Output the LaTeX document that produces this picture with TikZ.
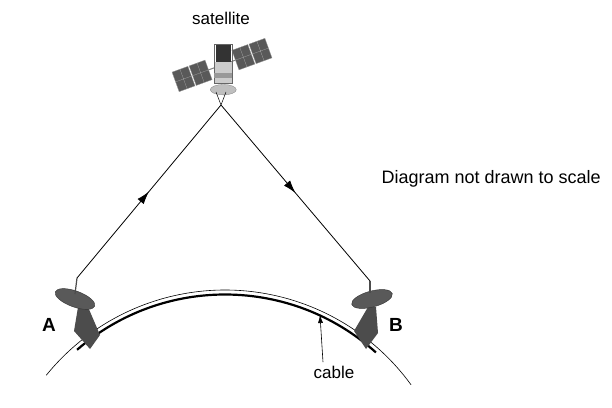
\documentclass[tikz,border=0pt]{standalone}
\usepackage{fontspec}
\setmainfont{Liberation Sans}
\usetikzlibrary{arrows.meta,decorations.markings}
\begin{document}
\begin{tikzpicture}[x=1pt,y=1pt,
  lbl/.style={font=\fontsize{17}{19}\selectfont},
  pt/.style={font=\fontsize{19}{21}\selectfont\bfseries},
  ray/.style={line width=0.8pt,postaction={decorate},decoration={markings,mark=at position 0.5 with {\arrow{Latex[length=13pt,width=8pt]}}}},
  panel/.style={fill=black!65,draw=black!40,line width=0.3pt},
  dishc/.style={fill=black!65,draw=black!80,line width=0.4pt}]
\useasboundingbox (0,0) rectangle (612,407);
% earth and cable
\coordinate (C) at (225,-113);
\draw[line width=0.6pt] ([shift={(141:230)}]C) arc (141:36:230);
\draw[line width=2.2pt] ([shift={(131:225.5)}]C) arc (131:48:225.5);
% satellite
\begin{scope}[shift={(222,342)},scale=1.3]
  \begin{scope}[rotate=20]
  \foreach \x in {-38,-24,11,25}{\draw[panel] (\x,-8) rectangle ++(13,16);
    \draw[white!70!black,line width=0.2pt] (\x+6.5,-8)--(\x+6.5,8) (\x,0)--(\x+13,0);}
  \draw[black!50,line width=1pt] (-12,0)--(11,0);
  \end{scope}
  \fill[black!80] (-5,2) rectangle (7,16);
  \fill[black!20] (-6,-14) rectangle (8,2);
  \draw[black!60,line width=0.3pt] (-6,-14) rectangle (8,16);
  \fill[black!40] (-6,-10) rectangle (8,-6);
  \fill[black!25,draw=black!50,line width=0.3pt] (1,-19) ellipse (10 and 4);
\end{scope}
\coordinate (S) at (221,302);
\draw[line width=0.5pt] (216,315)--(S)--(226,315);
% ground stations
\coordinate (FA) at (77,129);
\coordinate (FB) at (370,126);
\draw[ray] (FA) -- (S);
\draw[ray] (S) -- (FB);
% dish A
\fill[black!70] (78,100) -- (88,100) -- (100,72) -- (90,58) -- (74,76) -- cycle;
\draw[dishc,rotate around={-20:(75,108)}] (75,108) ellipse (21 and 8);
\draw[line width=1.2pt,black!70] (75,113)--(FA);
% dish B
\fill[black!70] (368,100) -- (376,100) -- (378,74) -- (366,58) -- (354,76) -- cycle;
\draw[dishc,rotate around={15:(372,108)}] (372,108) ellipse (21 and 8);
\draw[line width=1.2pt,black!70] (370,114)--(FB);
% labels
\node[lbl] (sat) at (221,389) {satellite};
\node[pt] (A) at (49,82) {A};
\node[pt] (B) at (396,82) {B};
\node[lbl] (cab) at (334,35) {cable};
\coordinate (cabtip) at (320,92);
\draw[-{Latex[length=8pt,width=5pt]},line width=0.6pt] (cab.north) ++(-11,0) coordinate (cabfoot) (cabfoot) -- (cabtip);
\node[lbl,anchor=west,font=\fontsize{18}{20}\selectfont] (note) at (378,228) {Diagram not drawn to scale};
\end{tikzpicture}
\end{document}
